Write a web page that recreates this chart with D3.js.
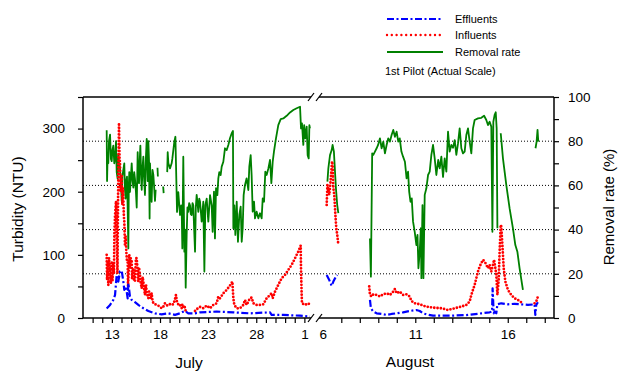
<!DOCTYPE html>
<html><head><meta charset="utf-8">
<script src="https://cdn.jsdelivr.net/npm/d3@7"></script>
<style>
body{margin:0;background:#fff}
svg{display:block}
text{font-family:"Liberation Sans",Arial,Helvetica,sans-serif;fill:#000}
</style>
</head><body>
<svg id="chart" width="618" height="372"></svg>
<script>
// ---------- data (day of month, value); null = gap in record ----------
const julyTickValues = [13, 18, 23, 28, 33];
const julyTickLabels = ["13", "18", "23", "28", "1"];
const augTickValues = [6, 11, 16];
const augTickLabels = ["6", "11", "16"];
const turbidityTicks = [0, 50, 100, 150, 200, 250, 300, 350];
const turbidityLabels = ["0", "", "100", "", "200", "", "300", ""];
const removalTicks = [0, 10, 20, 30, 40, 50, 60, 70, 80, 90, 100];
const removalLabels = ["0", "", "20", "", "40", "", "60", "", "80", "", "100"];
const gridRemoval = [20, 40, 60, 80];
const seriesNames = ["Effluents", "Influents", "Removal rate"];
const noteText = "1st Pilot (Actual Scale)";

const effluentJuly = [[12.46,15],[12.81,20.6],[13.15,28.6],[13.33,36.5],[13.5,68],[13.67,57.7],[13.84,73.6],[14.02,75],[14.19,57.7],[14.29,44.5],[14.43,50],[14.54,42],[14.64,31],[14.71,55],[14.88,34],[15.06,28.6],[15.4,25],[15.75,20.7],[16.27,15.4],[16.79,11.1],[17.48,7.4],[18.17,5.8],[18.87,7.4],[19.56,5],[20.08,7.4],[20.42,10.1],[20.6,11.1],[20.94,7.4],[21.64,7.4],[22.16,9],[23.89,10.1],[25.62,9],[27.35,7.4],[29.43,9],[29.6,4.8],[30.81,4.8],[32.55,3.7],[33.58,2.1]];

const influentJuly = [[12.46,100],[12.5,60],[12.56,88],[12.63,52],[12.7,95],[12.81,70],[12.9,55],[12.98,90],[13.06,58],[13.15,85],[13.22,70],[13.26,132],[13.33,163],[13.43,185],[13.52,120],[13.58,70],[13.65,200],[13.74,309],[13.8,250],[13.84,248],[13.9,200],[13.95,216],[14.02,227],[14.09,179],[14.15,206],[14.19,190],[14.25,160],[14.29,153],[14.36,116],[14.43,130],[14.5,105],[14.57,90],[14.64,89.5],[14.68,50],[14.76,80],[14.81,100],[14.88,79],[14.95,95],[15.06,89.5],[15.1,62],[15.23,79],[15.3,60],[15.4,57.7],[15.5,95],[15.58,94.7],[15.68,73.6],[15.75,57.7],[15.82,80],[15.92,68.3],[16,55],[16.1,47.1],[16.2,65],[16.27,57.7],[16.36,45],[16.44,36.5],[16.55,52.4],[16.62,40],[16.72,35],[16.79,31.2],[16.86,42],[16.96,36.5],[17.05,30],[17.13,39.2],[17.22,28],[17.31,23.3],[17.48,22],[17.65,20.7],[17.9,19],[18.17,15.4],[18.35,18],[18.52,23.3],[18.7,20],[18.87,19.6],[19.04,22],[19.21,20.7],[19.4,22],[19.56,30],[19.66,36.5],[19.77,25],[19.84,23.3],[19.95,20],[20.08,20.7],[20.25,15.4],[20.32,22],[20.42,18],[20.53,19.6],[20.67,11],[20.77,10.1],null,[21.64,11.1],[21.8,14],[21.98,15.4],[22.16,17.5],[22.5,15.4],[22.85,19.6],[23.2,15.4],[23.54,20.7],[23.89,23.3],[24.06,33.9],[24.23,31.2],[24.58,39.2],[24.93,44.5],[25.27,51.4],[25.52,57.7],[25.62,31.2],[25.72,20.7],[25.97,15.4],[26.31,15.4],[26.66,20.7],[26.83,28.6],[27,20.7],[27.35,31.2],[27.52,32.3],[27.7,23.3],[28.04,20.7],[28.39,20.7],[28.74,21.7],[29.08,31.2],[29.43,36.5],[29.6,39.2],[29.71,31.2],[29.95,41.8],[30.29,52.4],[30.64,63],[30.99,68.3],[31.33,76.2],[31.68,84.2],[32.03,94.7],[32.37,105.3],[32.62,114.8],[32.65,78.9],[32.72,36.5],[32.75,23.3],[33.06,20.7],[33.41,23.3],[33.58,20.7]];

const removalJuly = [[12.46,85],[12.5,62],[12.56,74],[12.63,70],[12.7,80],[12.81,83],[12.9,72],[12.98,71],[13.06,76],[13.15,78],[13.25,70],[13.33,72],[13.43,80],[13.5,66],[13.6,63],[13.67,74],[13.74,70],[13.84,68],[13.95,60],[14.02,53],[14.09,64],[14.19,67],[14.29,70],[14.36,58],[14.43,54],[14.5,62],[14.57,64],[14.64,50],[14.71,31.5],[14.76,60],[14.81,66],[14.88,57],[14.95,62],[15.06,70],[15.15,62],[15.23,59],[15.32,66],[15.4,63],[15.5,57],[15.58,50],[15.68,75],[15.75,66],[15.82,61],[15.92,74],[15.96,78],[16.05,63],[16.1,58],[16.2,69],[16.27,73],[16.36,62],[16.44,55.7],[16.53,72],[16.62,81],[16.72,62],[16.79,80],[16.86,71],[16.92,45],[16.96,70],[17.05,60],[17.13,52.6],[17.22,67],[17.31,64.7],[17.41,58],[17.48,53],[17.55,58],null,[17.74,68],[17.78,64],null,[18.33,59.5],[18.38,56.5],null,[18.75,66],[18.8,75],[18.87,70],[19.04,67.7],[19.21,70],[19.28,72],[19.49,79.8],[19.6,82],[19.77,48],[19.9,57],[20.08,46.6],[20.2,51],[20.25,50],[20.32,31.5],[20.42,73],[20.53,30],[20.6,40],[20.67,13.7],[20.77,37.6],[20.85,50],[20.94,48],[21.03,52],[21.12,51],[21.2,47],[21.29,46.6],[21.38,52],[21.46,51],[21.55,40],[21.64,30],[21.72,50],[21.81,55.7],[21.9,52],[21.98,48],[22.08,54],[22.16,52.6],[22.33,43.6],[22.5,52.6],[22.61,21],[22.71,51],[22.85,54],[23.02,43.6],[23.2,55.6],[23.37,51],[23.47,39],[23.61,57.2],[23.71,36],[23.82,58.7],[23.96,55.6],[24.06,63.2],[24.16,66],[24.3,64.7],[24.41,68.5],[24.58,70.7],[24.75,76.8],[24.93,76],[25.1,78.3],[25.27,81.3],[25.45,83.6],[25.58,84.6],[25.62,40.6],[25.72,51],[25.83,37.6],[25.97,52.6],[26.1,34.5],[26.24,46.6],[26.38,50.4],[26.49,34.5],[26.59,40.6],[26.69,55.6],[26.83,60.2],[27,63.2],[27.18,57.9],[27.28,68.5],[27.42,73.7],[27.52,64.7],[27.63,48.1],[27.77,52.6],[27.87,45.1],[28.04,48.1],[28.22,45.1],[28.39,47.4],[28.56,45.1],[28.67,54.1],[28.81,52.6],[28.94,66.2],[29.08,64.7],[29.26,67.7],[29.43,71.5],[29.57,61],[29.71,70.7],[29.84,75.3],[30.05,81.3],[30.29,87.3],[30.54,90],[30.81,90.3],[31.16,91.5],[31.51,93],[31.85,94.1],[32.2,94.9],[32.55,95.6],[32.65,85.8],[32.75,88.1],[32.89,78.3],[32.98,87.3],[33.1,81.3],[33.24,86.6],[33.34,73.7],[33.45,72.2],[33.52,87.3],[33.58,85.8]];

const effluentAug = [[6.21,68],[6.35,60],[6.48,51],[6.57,57.7],[6.71,65.6],[6.78,68],null,[8.55,28.6],[8.6,15.4],[8.73,10.1],[8.91,7.4],[9.18,6.4],[9.45,4.8],[9.72,6.4],[9.99,7.4],[10.34,9],[10.7,11.1],[11.06,12.7],[11.24,11.1],[11.42,7.4],[11.6,5.8],[11.96,3.7],[12.41,3.7],[12.95,3.7],[13.85,4.8],[14.57,7.4],[15.02,9],[15.15,10.1],[15.18,47],[15.24,7.4],[15.29,10.1],[15.38,7.4],[15.44,21.7],[15.65,23.3],[16.01,21.7],[16.37,22.5],[16.73,21.7],[17.09,20.7],[17.45,21.7],[17.49,4.8],[17.54,20.7],[17.63,24.9]];

const influentAug = [[6.21,179],[6.25,211],[6.35,195],[6.42,216],[6.5,248],[6.53,243],[6.57,206],[6.62,195],[6.68,163.5],[6.73,142],[6.78,132],[6.84,116],null,[8.51,50],[8.55,36.5],[8.64,34],[8.73,37.6],[8.91,36.5],[9.09,34],[9.27,37.6],[9.45,39.2],[9.63,36.5],[9.81,41.8],[9.9,46],[9.99,39.2],[10.16,41.8],[10.34,36.5],[10.53,37.6],[10.7,34],[10.79,27],[10.97,23.3],[11.24,21.7],[11.42,19.6],[11.6,18],[11.96,16.4],[12.41,15.4],[12.77,12.7],[13.13,15.4],[13.49,18],[13.76,20.7],[13.85,23.3],[13.94,26],[14.03,36.5],[14.12,44.5],[14.21,52.4],[14.3,63],[14.39,73.6],[14.48,81.5],[14.57,86.8],[14.66,92.1],[14.75,89.5],[14.84,84.2],[14.93,78.9],[15.02,84.2],[15.11,73.6],[15.2,84.2],[15.26,92.1],[15.33,78.9],[15.38,68.3],[15.44,36.5],[15.51,60.4],[15.56,105.3],[15.62,147.6],[15.65,145],[15.71,115.9],[15.78,78.9],[15.87,57.7],[16.01,44.5],[16.19,36.5],[16.37,31.2],[16.55,28.6],[16.73,24.9],null,[17.45,23.3],[17.54,26],[17.63,33.9]];

const removalAug = [[6.25,61.7],[6.3,67.7],[6.39,73.7],[6.48,76],[6.53,78.3],[6.6,75.3],[6.66,66.2],[6.71,58.7],[6.78,51.1],[6.84,47.4],null,[8.55,36],[8.6,18.7],[8.67,74.5],[8.73,73.8],[8.82,75.3],[8.91,76.8],[8.99,78.3],[9.09,81.3],[9.18,76.8],[9.27,79.8],[9.36,74.5],[9.45,78.3],[9.54,81.3],[9.63,79.8],[9.72,82.8],[9.81,85.1],[9.9,82],[9.99,84.3],[10.08,79.8],[10.16,81.3],[10.25,75.3],[10.34,73],[10.44,70.7],[10.53,63.2],[10.61,66.2],[10.67,57.2],[10.74,52.6],[10.81,54.1],[10.88,43.6],[10.97,39],[11.06,33],[11.12,37.6],[11.17,22.5],[11.24,30],[11.3,40.6],[11.33,18],[11.39,51.1],[11.44,18],[11.51,55.7],[11.6,58.7],[11.69,64.7],[11.78,66.2],[11.87,73.8],[11.96,78.3],[12.05,72.2],[12.14,64.7],[12.24,71.5],[12.32,67.7],[12.41,73],[12.5,63.8],[12.59,72.2],[12.68,66.2],[12.77,84.3],[12.86,75.3],[12.95,78.3],[13.04,77],[13.13,80.5],[13.22,73.8],[13.31,79],[13.4,85.8],[13.49,76.8],[13.58,74.5],[13.67,75.3],[13.76,82.8],[13.85,85.8],[13.94,79.8],[14.03,74.5],[14.12,85.8],[14.21,89.6],[14.39,90.3],[14.57,90.6],[14.72,91.5],[14.84,89.6],[14.93,87.3],[15.02,88.8],[15.11,86.6],[15.17,39],[15.22,88.8],[15.29,91.9],[15.35,93.1],[15.4,85.8],[15.44,40.6],null,[15.62,83.6],[15.74,72.2],[15.92,60.2],[16.1,49.6],[16.28,40.6],[16.41,33],[16.52,30],[16.64,22.5],[16.82,12.7],null,[17.5,76.8],[17.56,79.8],[17.61,85.1],[17.65,79.8]];

// ---------- layout ----------
const svg = d3.select("#chart");
const L = 83, R = 554, T = 97, B = 318;
const breakL = 311, breakR = 319;
const xJuly = d3.scaleLinear().domain([10, 34]).range([L, 314]);
const xAug = d3.scaleLinear().domain([6, 18.5]).range([322.8, R]);
const yTurb = d3.scaleLinear().domain([0, 350]).range([B, T]);
const yRem = d3.scaleLinear().domain([0, 100]).range([B, T]);

const colors = {eff: "#0000ff", inf: "#ff0000", rem: "#008000"};
const styles = {
  eff: {w: 2.2, dash: "7,2.5,2,2.5", cap: "butt"},
  inf: {w: 2.8, dash: "0,3.3", cap: "round"},
  rem: {w: 1.8, dash: null, cap: "butt"}
};

// gridlines (removal-rate axis)
svg.append("g").selectAll("line").data(gridRemoval).join("line")
  .attr("x1", L).attr("x2", R)
  .attr("y1", d => yRem(d)).attr("y2", d => yRem(d))
  .attr("stroke", "#000").attr("stroke-width", 1)
  .attr("stroke-dasharray", "1,2");

// series
function drawSeries(data, xs, ys, key) {
  const line = d3.line().defined(d => d !== null)
    .x(d => xs(d[0])).y(d => ys(d[1]));
  const s = styles[key];
  svg.append("path").datum(data).attr("d", line)
    .attr("fill", "none").attr("stroke", colors[key])
    .attr("stroke-width", s.w).attr("stroke-linecap", s.cap)
    .attr("stroke-linejoin", "round")
    .attr("stroke-dasharray", s.dash);
}
drawSeries(removalJuly, xJuly, yRem, "rem");
drawSeries(removalAug, xAug, yRem, "rem");
drawSeries(influentJuly, xJuly, yTurb, "inf");
drawSeries(influentAug, xAug, yTurb, "inf");
drawSeries(effluentJuly, xJuly, yTurb, "eff");
drawSeries(effluentAug, xAug, yTurb, "eff");

// frame with axis break
const frame = svg.append("g").attr("stroke", "#000").attr("stroke-width", 1.5).attr("fill", "none");
frame.append("line").attr("x1", L).attr("x2", L).attr("y1", T).attr("y2", B);
frame.append("line").attr("x1", R).attr("x2", R).attr("y1", T).attr("y2", B);
[T, B].forEach(y => {
  frame.append("line").attr("x1", L).attr("x2", breakL).attr("y1", y).attr("y2", y);
  frame.append("line").attr("x1", breakR).attr("x2", R).attr("y1", y).attr("y2", y);
  frame.append("line").attr("x1", breakL - 3).attr("y1", y + 4).attr("x2", breakL + 3).attr("y2", y - 4).attr("stroke-width", 1.2);
  frame.append("line").attr("x1", breakR - 3).attr("y1", y + 4).attr("x2", breakR + 3).attr("y2", y - 4).attr("stroke-width", 1.2);
});

// axes
function styleAxis(g, fs) {
  g.select(".domain").remove();
  g.selectAll(".tick line").attr("stroke", "#000").attr("stroke-width", 1.2);
  g.selectAll(".tick text").attr("font-size", fs).attr("font-family", "Liberation Sans, Arial, sans-serif").attr("fill", "#000");
}
const leftAxis = d3.axisLeft(yTurb).tickValues(turbidityTicks)
  .tickFormat((d, i) => turbidityLabels[i]).tickSize(5).tickPadding(13).tickSizeOuter(0);
svg.append("g").attr("transform", `translate(${L},0)`).call(leftAxis).call(g => styleAxis(g, 13.5));

const rightAxis = d3.axisRight(yRem).tickValues(removalTicks)
  .tickFormat((d, i) => removalLabels[i]).tickSize(5).tickPadding(9).tickSizeOuter(0);
svg.append("g").attr("transform", `translate(${R},0)`).call(rightAxis).call(g => styleAxis(g, 13.5));

const julyDays = d3.range(11, 34);
const julyAxis = d3.axisBottom(xJuly).tickValues(julyDays)
  .tickFormat(d => { const k = julyTickValues.indexOf(d); return k >= 0 ? julyTickLabels[k] : ""; })
  .tickSize(5).tickPadding(6).tickSizeOuter(0);
svg.append("g").attr("transform", `translate(0,${B})`).call(julyAxis).call(g => styleAxis(g, 13.5));

const augDays = d3.range(7, 19);
const augAxis = d3.axisBottom(xAug).tickValues([6].concat(augDays))
  .tickFormat(d => { const k = augTickValues.indexOf(d); return k >= 0 ? augTickLabels[k] : ""; })
  .tickSize(5).tickPadding(6).tickSizeOuter(0);
svg.append("g").attr("transform", `translate(0,${B})`).call(augAxis).call(g => {
  styleAxis(g, 13.5);
  g.selectAll(".tick").filter(d => d === 6).select("line").remove();
});

// axis titles
svg.append("text").attr("transform", "translate(23,209) rotate(-90)")
  .attr("text-anchor", "middle").attr("font-size", 15.5).text("Turbidity (NTU)");
svg.append("text").attr("transform", "translate(614,207) rotate(-90)")
  .attr("text-anchor", "middle").attr("font-size", 15).text("Removal rate (%)");
svg.append("text").attr("x", 189).attr("y", 368).attr("text-anchor", "middle")
  .attr("font-size", 15.5).text("July");
svg.append("text").attr("x", 410).attr("y", 367).attr("text-anchor", "middle")
  .attr("font-size", 15.5).text("August");

// legend
const legendKeys = ["eff", "inf", "rem"];
const legendY = [19, 35, 52];
const lg = svg.append("g");
legendKeys.forEach((k, i) => {
  const s = styles[k];
  lg.append("line").attr("x1", 387).attr("x2", 443)
    .attr("y1", legendY[i]).attr("y2", legendY[i])
    .attr("stroke", colors[k]).attr("stroke-width", k === "inf" ? 2.4 : s.w)
    .attr("stroke-linecap", s.cap).attr("stroke-dasharray", k === "inf" ? "0,4.8" : s.dash);
  lg.append("text").attr("x", 455).attr("y", legendY[i] + 4)
    .attr("font-size", 11).text(seriesNames[i]);
});
lg.append("text").attr("x", 385).attr("y", 75).attr("font-size", 11).text(noteText);
</script>
</body></html>
